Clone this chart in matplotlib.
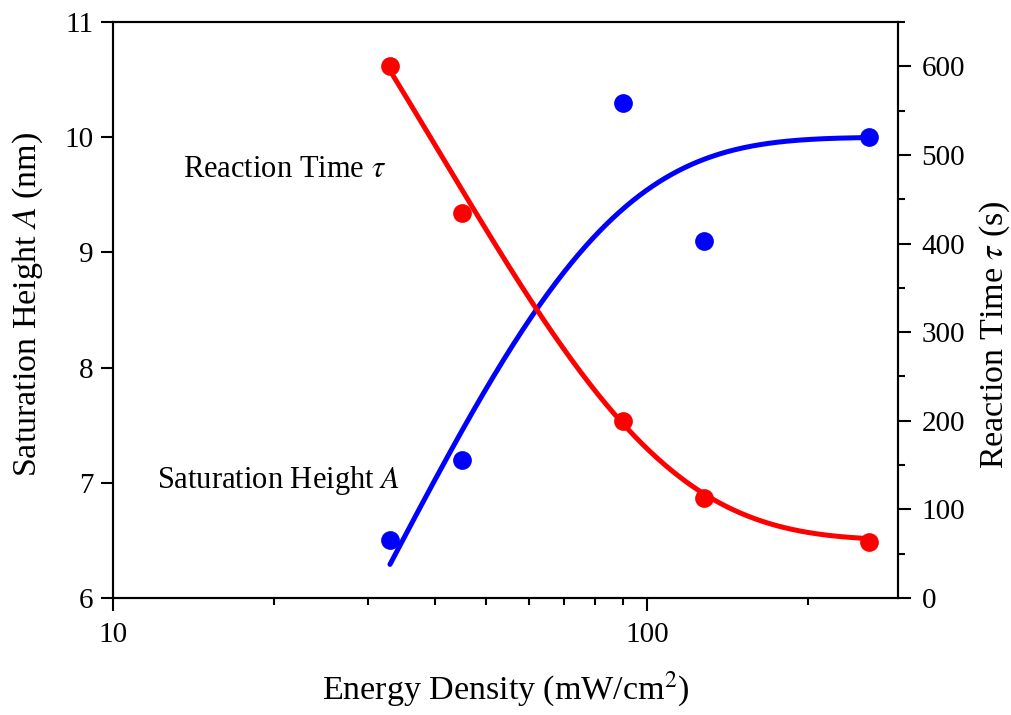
import numpy as np
import matplotlib
matplotlib.use("Agg")
import matplotlib.pyplot as plt
from matplotlib.ticker import LogLocator, NullFormatter, MultipleLocator, FuncFormatter

tick_fs = 21
label_fs = 24.5
note_fs = 22

plt.rcParams["font.family"] = ["Liberation Serif", "DejaVu Serif"]
plt.rcParams["mathtext.fontset"] = "stix"
plt.rcParams["xtick.labelsize"] = tick_fs
plt.rcParams["ytick.labelsize"] = tick_fs

# Measured data
energy_density = [33, 45, 90, 128, 260]          # mW/cm^2
saturation_height = [6.5, 7.2, 10.3, 9.1, 10.0]  # nm
reaction_time = [600, 434, 200, 113, 63]         # s

# Exponential fit parameters
height_max, height_amp, height_scale = 10.0, 10.4, 32.0
time_base, time_amp, time_scale = 65.0, 1186.0, 41.0

fig = plt.figure(figsize=(10.12, 7.15), dpi=100)
ax = fig.add_axes([0.1117, 0.1636, 0.7757, 0.8056])
ax2 = ax.twinx()

xf = np.linspace(min(energy_density), max(energy_density), 400)
height_fit = height_max - height_amp * np.exp(-xf / height_scale)
time_fit = time_base + time_amp * np.exp(-xf / time_scale)

ax.plot(xf, height_fit, color="#0000ff", lw=3.6, solid_capstyle="round", zorder=3)
ax.plot(energy_density, saturation_height, "o", color="#0000ff", ms=13.5, mec="none", zorder=4)
ax2.plot(xf, time_fit, color="#ff0000", lw=3.6, solid_capstyle="round", zorder=3)
ax2.plot(energy_density, reaction_time, "o", color="#ff0000", ms=13.5, mec="none", zorder=4)

ax.set_xscale("log")
ax.set_xlim(10, 295)
ax.set_ylim(6, 11)
ax2.set_ylim(0, 650)

ax.xaxis.set_major_locator(LogLocator(base=10, numticks=10))
ax.xaxis.set_major_formatter(FuncFormatter(lambda v, _: f"{v:g}"))
ax.xaxis.set_minor_locator(LogLocator(base=10, subs=np.arange(2, 10), numticks=10))
ax.xaxis.set_minor_formatter(NullFormatter())
ax.yaxis.set_major_locator(MultipleLocator(1))
ax2.yaxis.set_major_locator(MultipleLocator(100))
ax2.yaxis.set_minor_locator(MultipleLocator(50))

ax.tick_params(axis="x", which="major", direction="out", length=9, width=1.5, labelsize=tick_fs, pad=8)
ax.tick_params(axis="x", which="minor", direction="out", length=5, width=1.5)
ax.tick_params(axis="y", which="major", direction="out", length=9, width=1.5, labelsize=tick_fs, pad=5)
ax.tick_params(axis="y", which="minor", left=False)
ax2.tick_params(axis="y", which="major", direction="out", length=9, width=1.5, labelsize=tick_fs, pad=8)
ax2.tick_params(axis="y", which="minor", direction="out", length=5, width=1.5)

for a in (ax, ax2):
    for s in a.spines.values():
        s.set_linewidth(1.5)

ax.set_xlabel(r"Energy Density (mW/cm$^2$)", fontsize=label_fs, labelpad=16)
ax.set_ylabel(r"Saturation Height $A$ (nm)", fontsize=label_fs, va="center")
ax2.set_ylabel(r"Reaction Time $\tau$ (s)", fontsize=label_fs, va="center")
ax.yaxis.set_label_coords(-0.108, 0.509)
ax2.yaxis.set_label_coords(1.123, 0.457)

ax.text(13.5, 9.72, r"Reaction Time $\tau$", fontsize=note_fs, va="center", ha="left")
ax.text(12.08, 7.02, r"Saturation Height $A$", fontsize=note_fs, va="center", ha="left")

fig.savefig("out.png", dpi=100)
